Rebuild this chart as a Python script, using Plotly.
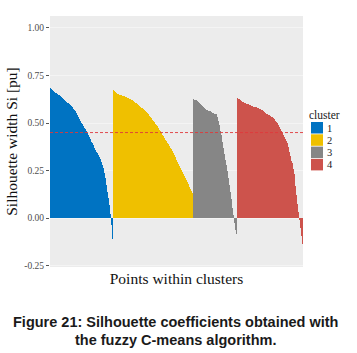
import plotly.graph_objects as go

clusters = ["1", "2", "3", "4"]
colors = ["#0073C2", "#EFC000", "#868686", "#CD534C"]

sil_c1 = [0.683, 0.679, 0.674, 0.669, 0.664, 0.660, 0.656, 0.652, 0.648, 0.645,
          0.642, 0.637, 0.632, 0.626, 0.621, 0.616, 0.612, 0.607, 0.603, 0.599,
          0.595, 0.589, 0.582, 0.575, 0.569, 0.563, 0.552, 0.541, 0.530, 0.520,
          0.510, 0.502, 0.493, 0.484, 0.475, 0.467, 0.456, 0.446, 0.435, 0.425,
          0.414, 0.403, 0.393, 0.382, 0.371, 0.360, 0.350, 0.340, 0.330, 0.319,
          0.309, 0.294, 0.280, 0.265, 0.238, 0.210, 0.175, 0.140, 0.105, 0.070,
          0.020, -0.035, -0.110]
sil_c2 = [0.672, 0.667, 0.663, 0.659, 0.655, 0.651, 0.649, 0.647, 0.645, 0.643,
          0.642, 0.640, 0.637, 0.635, 0.632, 0.630, 0.627, 0.624, 0.621, 0.619,
          0.616, 0.612, 0.608, 0.603, 0.599, 0.595, 0.590, 0.586, 0.581, 0.577,
          0.572, 0.567, 0.562, 0.556, 0.551, 0.546, 0.539, 0.532, 0.524, 0.517,
          0.510, 0.503, 0.496, 0.489, 0.482, 0.475, 0.466, 0.457, 0.448, 0.439,
          0.430, 0.422, 0.413, 0.405, 0.396, 0.388, 0.379, 0.370, 0.362, 0.353,
          0.344, 0.332, 0.320, 0.307, 0.295, 0.283, 0.272, 0.262, 0.251, 0.241,
          0.230, 0.219, 0.209, 0.198, 0.188, 0.177, 0.166, 0.155, 0.143, 0.132]
sil_c3 = [0.625, 0.623, 0.622, 0.620, 0.615, 0.611, 0.607, 0.601, 0.596, 0.590,
          0.584, 0.578, 0.572, 0.570, 0.568, 0.566, 0.564, 0.562, 0.558, 0.555,
          0.551, 0.549, 0.547, 0.546, 0.530, 0.510, 0.490, 0.460, 0.435, 0.400,
          0.370, 0.335, 0.305, 0.280, 0.250, 0.212, 0.175, 0.140, 0.100, 0.055,
          0.015, -0.025, -0.060, -0.086]
sil_c4 = [0.633, 0.628, 0.624, 0.620, 0.616, 0.612, 0.610, 0.607, 0.605, 0.602,
          0.600, 0.598, 0.596, 0.593, 0.591, 0.589, 0.587, 0.585, 0.583, 0.582,
          0.580, 0.578, 0.575, 0.572, 0.570, 0.567, 0.563, 0.559, 0.554, 0.550,
          0.546, 0.543, 0.540, 0.537, 0.534, 0.531, 0.525, 0.519, 0.513, 0.508,
          0.502, 0.491, 0.481, 0.470, 0.460, 0.449, 0.438, 0.428, 0.417, 0.407,
          0.396, 0.373, 0.350, 0.326, 0.302, 0.290, 0.260, 0.230, 0.170, 0.120,
          0.072, 0.030, -0.010, -0.050, -0.095, -0.135]
avg_width = 0.45

y_ticks = [-0.25, 0.00, 0.25, 0.50, 0.75, 1.00]
y_ticktext = ["-0.25", "0.00", "0.25", "0.50", "0.75", "1.00"]

series = [sil_c1, sil_c2, sil_c3, sil_c4]

fig = go.Figure()
start = 1
for name, vals, col in zip(clusters, series, colors):
    xs = list(range(start, start + len(vals)))
    start += len(vals)
    fig.add_trace(go.Bar(x=xs, y=vals, name=name, width=1.0,
                         marker=dict(color=col, line=dict(width=0)),
                         showlegend=False))
n_total = start - 1

serif = "Liberation Serif, Times New Roman, serif"
sans = "Liberation Sans, Arial, sans-serif"

PL, PT, PW, PH = 50, 16, 253, 251  # panel box in page pixels


def px(x):
    return (x - PL) / PW


def py(y):
    return 1 - (y - PT) / PH


fig.add_shape(type="line", xref="x domain", yref="y", x0=0, x1=1,
              y0=avg_width, y1=avg_width,
              line=dict(color="#e0393b", width=0.9, dash="3px,2px"))

# manual legend
annotations = [dict(text="cluster", xref="paper", yref="paper", x=px(307), y=py(115),
                    xanchor="left", yanchor="middle", showarrow=False,
                    font=dict(family=serif, size=11.5, color="#1a1a1a"))]
for i, (name, col) in enumerate(zip(clusters, colors)):
    top = 122 + i * 12.3
    annotations.append(dict(text=name, xref="paper", yref="paper",
                            x=px(325), y=py(top + 6),
                            xanchor="left", yanchor="middle", showarrow=False,
                            font=dict(family=serif, size=10.5, color="#1a1a1a")))
    fig.add_shape(type="rect", xref="paper", yref="paper",
                  x0=px(311), x1=px(323), y0=py(top), y1=py(top + 11.5),
                  fillcolor=col, line=dict(width=0))

annotations.append(dict(text="<b>Figure 21: Silhouette coefficients obtained with</b>",
                        xref="paper", yref="paper", x=px(175), y=py(322),
                        xanchor="center", yanchor="middle", showarrow=False,
                        font=dict(family=sans, size=14.5, color="#1a1a1a")))
annotations.append(dict(text="<b>the fuzzy C-means algorithm.</b>",
                        xref="paper", yref="paper", x=px(175), y=py(340),
                        xanchor="center", yanchor="middle", showarrow=False,
                        font=dict(family=sans, size=14.5, color="#1a1a1a")))

fig.update_layout(
    width=357, height=353,
    margin=dict(l=PL, r=357 - PL - PW, t=PT, b=353 - PT - PH),
    paper_bgcolor="white",
    plot_bgcolor="#ececec",
    bargap=0,
    showlegend=False,
    annotations=annotations,
    xaxis=dict(range=[0.5, n_total + 0.5], showticklabels=False, ticks="",
               showgrid=False, zeroline=False, showline=False,
               title=dict(text="Points within clusters", standoff=6,
                          font=dict(family=serif, size=15.5, color="#111111"))),
    yaxis=dict(range=[-0.257, 1.063], tickvals=y_ticks, ticktext=y_ticktext,
               ticks="outside", ticklen=3, tickcolor="#555555", tickwidth=0.8,
               tickfont=dict(family=serif, size=9.5, color="#4d4d4d"),
               showgrid=True, gridcolor="#f4f4f4", gridwidth=0.8,
               zeroline=False, showline=False,
               title=dict(text="Silhouette width Si [pu]", standoff=2,
                          font=dict(family=serif, size=15.5, color="#111111"))),
)

fig.write_html("out.html", config={"displayModeBar": False},
               post_script="document.body.style.margin='0';document.body.style.overflow='hidden';")
